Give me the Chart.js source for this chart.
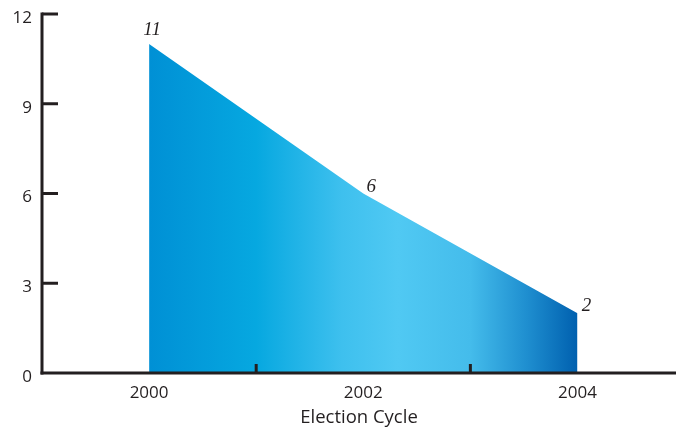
<!DOCTYPE html>
<html>
<head>
<meta charset="utf-8">
<script src="https://cdn.jsdelivr.net/npm/chart.js@4.4.0/dist/chart.umd.min.js"></script>
<style>
  html, body { margin: 0; padding: 0; background: #fff; }
  #wrap { width: 676px; height: 429px; position: relative; }
</style>
</head>
<body>
<div id="wrap"><canvas id="c" width="676" height="429"></canvas></div>
<script>
// ---- data ----
const years = [2000, 2002, 2004];
const values = [11, 6, 2];
const pointLabels = ['11', '6', '2'];
const xTickLabels = [2000, 2002, 2004];
const xMinorTicks = [2001, 2003];
const yTickValues = [0, 3, 6, 9, 12];
const xTitle = 'Election Cycle';

const INK = '#231f20';
const SANS = '"Open Sans", "DejaVu Sans", sans-serif';

function makeGradient(chart) {
  const { ctx, chartArea, scales } = chart;
  if (!chartArea) return '#0AA8E0';
  const x0 = scales.x.getPixelForValue(years[0]);
  const x1 = scales.x.getPixelForValue(years[years.length - 1]);
  const g = ctx.createLinearGradient(x0, 0, x1, 0);
  g.addColorStop(0.00, '#0090D5');
  g.addColorStop(0.25, '#06A8E0');
  g.addColorStop(0.45, '#3EC0EE');
  g.addColorStop(0.58, '#50C9F3');
  g.addColorStop(0.75, '#44BCEB');
  g.addColorStop(0.88, '#1F8FD0');
  g.addColorStop(1.00, '#0060AF');
  return g;
}

const axesPlugin = {
  id: 'customAxes',
  afterDatasetsDraw(chart) {
    const { ctx, scales } = chart;
    const xs = scales.x, ys = scales.y;
    const x0 = xs.left;
    const y0 = ys.getPixelForValue(0);
    const yTop = ys.getPixelForValue(12);
    ctx.save();
    ctx.strokeStyle = INK;
    ctx.lineWidth = 3;
    ctx.lineCap = 'butt';
    ctx.beginPath();
    ctx.moveTo(x0, yTop - 1.5);
    ctx.lineTo(x0, y0 + 1.5);
    ctx.stroke();
    ctx.beginPath();
    ctx.moveTo(x0 - 1.5, y0);
    ctx.lineTo(chart.width, y0);
    ctx.stroke();
    yTickValues.forEach(v => {
      if (v === 0) return;
      const y = ys.getPixelForValue(v);
      ctx.beginPath();
      ctx.moveTo(x0, y);
      ctx.lineTo(x0 + 16, y);
      ctx.stroke();
    });
    xMinorTicks.forEach(v => {
      const x = xs.getPixelForValue(v);
      ctx.beginPath();
      ctx.moveTo(x, y0);
      ctx.lineTo(x, y0 - 9);
      ctx.stroke();
    });
    ctx.fillStyle = INK;
    ctx.font = 'italic 19px "Liberation Serif", "DejaVu Serif", serif';
    ctx.textAlign = 'center';
    ctx.textBaseline = 'middle';
    const offs = [[3, -14], [8, -7], [9, -7]];
    years.forEach((yr, i) => {
      const px = xs.getPixelForValue(yr);
      const py = ys.getPixelForValue(values[i]);
      ctx.fillText(pointLabels[i], px + offs[i][0], py + offs[i][1]);
    });
    ctx.restore();
  }
};

new Chart(document.getElementById('c'), {
  type: 'line',
  data: {
    datasets: [{
      data: years.map((y, i) => ({ x: y, y: values[i] })),
      fill: 'origin',
      borderWidth: 0,
      borderColor: 'rgba(0,0,0,0)',
      pointRadius: 0,
      tension: 0,
      backgroundColor: (c) => makeGradient(c.chart)
    }]
  },
  options: {
    responsive: false,
    animation: false,
    events: [],
    layout: { padding: { top: 14, right: 0, left: 0, bottom: 0 } },
    plugins: { legend: { display: false }, tooltip: { enabled: false } },
    scales: {
      x: {
        type: 'linear',
        min: 1999,
        max: 2004.92,
        afterBuildTicks: (s) => { s.ticks = xTickLabels.map(v => ({ value: v })); },
        afterFit: (s) => { s.height = 56; s.paddingLeft = 0; s.paddingRight = 0; },
        grid: { display: false, drawTicks: false },
        border: { display: false },
        ticks: {
          padding: 10,
          color: INK,
          font: { family: SANS, size: 17 },
          callback: (v) => String(v),
          maxRotation: 0,
          autoSkip: false
        },
        title: {
          display: true,
          text: xTitle,
          color: INK,
          padding: { top: 0, bottom: 0 },
          font: { family: SANS, size: 18.5 }
        }
      },
      y: {
        min: 0,
        max: 12,
        afterBuildTicks: (s) => { s.ticks = yTickValues.map(v => ({ value: v })); },
        afterFit: (s) => { s.width = 42; s.paddingTop = 0; s.paddingBottom = 0; },
        grid: { display: false, drawTicks: false },
        border: { display: false },
        ticks: {
          padding: 10,
          labelOffset: 4,
          color: INK,
          font: { family: SANS, size: 17 },
          callback: (v) => String(v)
        }
      }
    }
  },
  plugins: [axesPlugin]
});
</script>
</body>
</html>
